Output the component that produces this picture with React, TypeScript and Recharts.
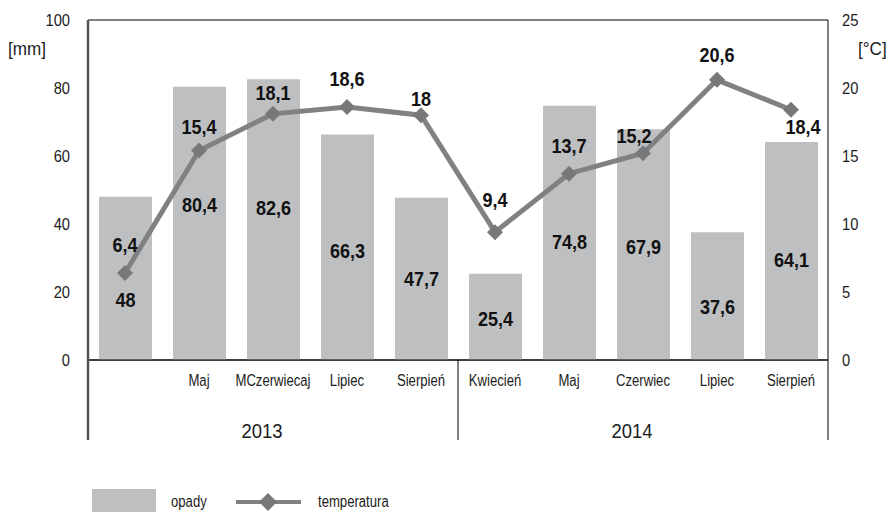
import { ComposedChart, Bar, Line, XAxis, YAxis, CartesianGrid, LabelList, Legend } from "recharts";

// Precipitation [mm] and temperature [°C], 2013–2014
const months = ["", "Maj", "MCzerwiecaj", "Lipiec", "Sierpień", "Kwiecień", "Maj", "Czerwiec", "Lipiec", "Sierpień"];
const rainfall = [48, 80.4, 82.6, 66.3, 47.7, 25.4, 74.8, 67.9, 37.6, 64.1];
const temperature = [6.4, 15.4, 18.1, 18.6, 18, 9.4, 13.7, 15.2, 20.6, 18.4];
const yearGroups = [
  { year: "2013", from: 0, to: 4 },
  { year: "2014", from: 5, to: 9 },
];
const mmTicks = [0, 20, 40, 60, 80, 100];
const tempTicks = [0, 5, 10, 15, 20, 25];

const data = months.map((month, i) => ({ month, opady: rainfall[i], temperatura: temperature[i] }));

// layout
const W = 890;
const H = 512;
const PLOT_LEFT = 88;
const PLOT_RIGHT = 828;
const BAND = (PLOT_RIGHT - PLOT_LEFT) / months.length;
const FONT = "'Liberation Sans', Arial, sans-serif";
const BAR_COLOR = "#bebfc1";
const LINE_COLOR = "#808183";
const DOT_COLOR = "#77787a";
const INK = "#1c1c1c";

// hand-placed label nudges (px), as in the original
const barLabelNudge = [21, -19, -12, 3, 0, 2, 9, 2, 10, 8];
const tempLabelNudge = [
  [0, -28], [0, -24], [0, -21], [0, -29], [0, -17],
  [0, -33], [0, -28], [-9, -18], [0, -25], [12, 17],
];

const fmt = (v: number) => String(v).replace(".", ",");

// condensed-looking text: horizontal squeeze of a regular sans
const SText = ({ x, y, sx = 0.82, children, ...rest }: any) => (
  <text
    transform={`translate(${x},${y}) scale(${sx},1)`}
    x={0}
    y={0}
    dominantBaseline="central"
    fontFamily={FONT}
    fill={INK}
    {...rest}
  >
    {children}
  </text>
);

const Diamond = ({ cx, cy, r = 8 }: any) => {
  if (cx == null || cy == null) return null;
  return <polygon points={`${cx},${cy - r} ${cx + r},${cy} ${cx},${cy + r} ${cx - r},${cy}`} fill={DOT_COLOR} />;
};

const BarValue = ({ x, y, width, height, value, index }: any) => (
  <SText x={x + width / 2} y={y + height / 2 + barLabelNudge[index]} sx={0.86} textAnchor="middle" fontWeight="bold" fontSize={21} fill="#111">
    {fmt(value)}
  </SText>
);

const TempValue = ({ x, y, value, index }: any) => (
  <SText
    x={x + tempLabelNudge[index][0]}
    y={y + tempLabelNudge[index][1]}
    sx={0.86}
    textAnchor="middle"
    fontWeight="bold"
    fontSize={21}
    fill="#111"
  >
    {fmt(value)}
  </SText>
);

const MonthTick = ({ x, y, payload }: any) => {
  const i = payload.index;
  const parts: any[] = [
    <SText key="m" x={x} y={y + 21} textAnchor="middle" fontSize={16}>
      {payload.value}
    </SText>,
  ];
  yearGroups.forEach((g, gi) => {
    if (g.from === i) {
      const cx = x + ((g.to - g.from) / 2) * BAND - 11;
      parts.push(
        <SText key={"y" + gi} x={cx} y={y + 71} sx={0.88} textAnchor="middle" fontSize={21}>
          {g.year}
        </SText>
      );
      const lx = x - BAND / 2;
      parts.push(
        <line key={"s" + gi} x1={lx} x2={lx} y1={y} y2={y + 80} stroke={i === 0 ? "#555" : "#000"} strokeWidth={i === 0 ? 2.5 : 1} />
      );
    }
    if (g.to === i && gi === yearGroups.length - 1) {
      const rx = x + BAND / 2;
      parts.push(<line key="r" x1={rx} x2={rx} y1={y} y2={y + 80} stroke="#000" strokeWidth={1} />);
    }
  });
  return <g>{parts}</g>;
};

const ValueTick = ({ x, y, payload, anchor }: any) => (
  <SText x={x} y={y} sx={0.92} textAnchor={anchor} fontSize={16}>
    {payload.value}
  </SText>
);

const UnitLabel = (text: string, dx: number) => (props: any) => {
  const vb = props.viewBox || {};
  return (
    <SText x={vb.x + dx} y={vb.y + 29} sx={0.9} fontSize={19}>
      {text}
    </SText>
  );
};

const LegendBox = () => (
  <svg width={360} height={26} style={{ display: "block" }}>
    <rect x={0} y={0} width={64} height={23} fill={BAR_COLOR} />
    <SText x={79} y={13} fontSize={16}>opady</SText>
    <line x1={144} x2={209} y1={13} y2={13} stroke={LINE_COLOR} strokeWidth={4} />
    <Diamond cx={176} cy={13} r={9} />
    <SText x={226} y={13} fontSize={16}>temperatura</SText>
  </svg>
);

export default function App() {
  return (
    <div style={{ position: "absolute", left: 0, top: 0, width: W, height: H, background: "#fff" }}>
      <ComposedChart width={W} height={H} data={data} margin={{ top: 20, right: 12, bottom: 72, left: 18 }}>
        <CartesianGrid vertical={false} stroke="#000" strokeWidth={1} />
        <XAxis
          dataKey="month"
          xAxisId="m"
          height={80}
          interval={0}
          tickSize={0}
          tickMargin={0}
          tickLine={false}
          axisLine={{ stroke: "#000" }}
          tick={<MonthTick />}
        />
        <YAxis
          yAxisId="mm"
          orientation="left"
          width={70}
          domain={[0, 100]}
          ticks={mmTicks}
          tickSize={0}
          tickMargin={18}
          tickLine={false}
          axisLine={{ stroke: "#555", strokeWidth: 2.5 }}
          tick={<ValueTick anchor="end" />}
          label={UnitLabel("[mm]", -10)}
        />
        <YAxis
          yAxisId="t"
          orientation="right"
          width={50}
          domain={[0, 25]}
          ticks={tempTicks}
          tickSize={0}
          tickMargin={14}
          tickLine={false}
          axisLine={{ stroke: "#000" }}
          tick={<ValueTick anchor="start" />}
          label={UnitLabel("[°C]", 30)}
        />
        <Bar xAxisId="m" yAxisId="mm" dataKey="opady" fill={BAR_COLOR} barSize={53} isAnimationActive={false}>
          <LabelList dataKey="opady" content={<BarValue />} />
        </Bar>
        <Line
          xAxisId="m"
          yAxisId="t"
          dataKey="temperatura"
          stroke={LINE_COLOR}
          strokeWidth={5}
          dot={<Diamond r={8} />}
          activeDot={false}
          isAnimationActive={false}
        >
          <LabelList dataKey="temperatura" content={<TempValue />} />
        </Line>
        <Legend
          layout="horizontal"
          verticalAlign="middle"
          align="center"
          content={<LegendBox />}
          wrapperStyle={{ position: "absolute", left: 92, top: 489, width: 360, height: 26 }}
        />
      </ComposedChart>
    </div>
  );
}
